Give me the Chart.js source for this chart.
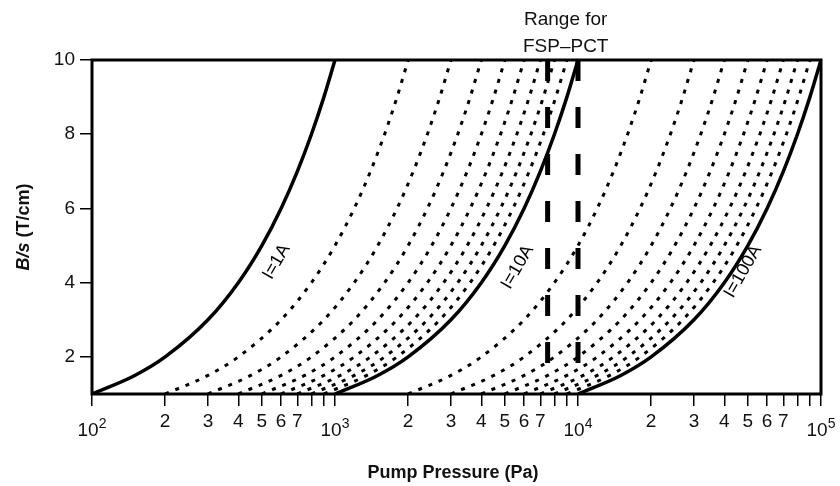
<!DOCTYPE html>
<html>
<head>
<meta charset="utf-8">
<script src="https://cdn.jsdelivr.net/npm/chart.js@4/dist/chart.umd.min.js"></script>
<style>
  body { margin: 0; background: #fff; }
  canvas { display: block; }
</style>
</head>
<body>
<canvas id="chart" width="840" height="486"></canvas>
<script>
var bsLevels = [1, 1.5, 2, 3, 4, 5, 6, 7, 8, 9, 10];

// solid curves, pump pressure (Pa)
var p1A   = [100, 150, 200, 300, 400, 500, 600, 700, 800, 900, 1000];
var p10A  = [1000, 1500, 2000, 3000, 4000, 5000, 6000, 7000, 8000, 9000, 10000];
var p100A = [10000, 15000, 20000, 30000, 40000, 50000, 60000, 70000, 80000, 90000, 100000];

// dotted curves between 1A and 10A
var dottedLow = [
    [200, 300, 400, 600, 800, 1000, 1200, 1400, 1600, 1800, 2000],
    [300, 450, 600, 900, 1200, 1500, 1800, 2100, 2400, 2700, 3000],
    [400, 600, 800, 1200, 1600, 2000, 2400, 2800, 3200, 3600, 4000],
    [500, 750, 1000, 1500, 2000, 2500, 3000, 3500, 4000, 4500, 5000],
    [600, 900, 1200, 1800, 2400, 3000, 3600, 4200, 4800, 5400, 6000],
    [700, 1050, 1400, 2100, 2800, 3500, 4200, 4900, 5600, 6300, 7000],
    [800, 1200, 1600, 2400, 3200, 4000, 4800, 5600, 6400, 7200, 8000],
    [900, 1350, 1800, 2700, 3600, 4500, 5400, 6300, 7200, 8100, 9000]
];

// dotted curves between 10A and 100A
var dottedHigh = [
    [2000, 3000, 4000, 6000, 8000, 10000, 12000, 14000, 16000, 18000, 20000],
    [3000, 4500, 6000, 9000, 12000, 15000, 18000, 21000, 24000, 27000, 30000],
    [4000, 6000, 8000, 12000, 16000, 20000, 24000, 28000, 32000, 36000, 40000],
    [5000, 7500, 10000, 15000, 20000, 25000, 30000, 35000, 40000, 45000, 50000],
    [6000, 9000, 12000, 18000, 24000, 30000, 36000, 42000, 48000, 54000, 60000],
    [7000, 10500, 14000, 21000, 28000, 35000, 42000, 49000, 56000, 63000, 70000],
    [8000, 12000, 16000, 24000, 32000, 40000, 48000, 56000, 64000, 72000, 80000],
    [9000, 13500, 18000, 27000, 36000, 45000, 54000, 63000, 72000, 81000, 90000]
];

// FSP-PCT range (Pa) and the B/s span of the marker lines
var rangePressures = [7500, 10000];
var rangeBs = [10, 1.78];

var yTicks = [2, 4, 6, 8, 10];
var xDecades = [2, 3, 4, 5];
var xMantissas = [1, 2, 3, 4, 5, 6, 7, 8, 9];
var hiddenMinor = [8, 9];

// curve labels: text, pressure, B/s
var curveLabels = [
    ['I=1A', 575, 4.56],
    ['I=10A', 5640, 4.42],
    ['I=100A', 47800, 4.3]
];

var FONT = '"Liberation Sans Narrow", "Liberation Sans", Arial, sans-serif';

function toPoints(pressures) {
    var pts = [];
    pressures.forEach(function (p, i) {
        pts.push({ x: p, y: bsLevels[i] });
    });
    return pts;
}

var datasets = [];

dottedLow.concat(dottedHigh).forEach(function (arr) {
    datasets.push({
        data: toPoints(arr),
        borderColor: '#000',
        borderWidth: 3,
        borderDash: [4, 7],
        pointRadius: 0,
        cubicInterpolationMode: 'monotone',
        fill: false
    });
});

[p1A, p10A, p100A].forEach(function (arr) {
    datasets.push({
        data: toPoints(arr),
        borderColor: '#000',
        borderWidth: 3.5,
        pointRadius: 0,
        cubicInterpolationMode: 'monotone',
        fill: false
    });
});

rangePressures.forEach(function (p) {
    datasets.push({
        data: [{ x: p, y: rangeBs[0] }, { x: p, y: rangeBs[1] }],
        borderColor: '#000',
        borderWidth: 5,
        borderDash: [21, 26],
        borderCapStyle: 'butt',
        pointRadius: 0,
        fill: false
    });
});

function mantissa(v) {
    var e = Math.floor(Math.log10(v) + 1e-9);
    return Math.round(v / Math.pow(10, e));
}

var textPlugin = {
    id: 'textPlugin',
    afterDraw: function (chart) {
        var ctx = chart.ctx;
        var area = chart.chartArea;
        var xs = chart.scales.x;
        var ys = chart.scales.y;

        // frame
        ctx.save();
        ctx.strokeStyle = '#000';
        ctx.lineWidth = 3;
        ctx.strokeRect(area.left, area.top, area.right - area.left, area.bottom - area.top);
        ctx.restore();

        ctx.save();
        ctx.fillStyle = '#111';

        // decade labels 10^n
        xDecades.forEach(function (n) {
            var px = xs.getPixelForValue(Math.pow(10, n));
            ctx.font = '19px ' + FONT;
            var w1 = ctx.measureText('10').width;
            ctx.font = '14px ' + FONT;
            var w2 = ctx.measureText(String(n)).width;
            var x0 = px - (w1 + w2) / 2;
            ctx.textBaseline = 'alphabetic';
            ctx.textAlign = 'left';
            ctx.font = '19px ' + FONT;
            ctx.fillText('10', x0, 436);
            ctx.font = '14px ' + FONT;
            ctx.fillText(String(n), x0 + w1, 428);
        });

        // range label
        var rx = xs.getPixelForValue(8900);
        ctx.textAlign = 'center';
        ctx.font = '19px ' + FONT;
        ctx.fillText('Range for', rx, 25);
        ctx.fillText('FSP\u2013PCT', rx, 52);

        // curve labels
        curveLabels.forEach(function (lab) {
            ctx.save();
            ctx.translate(xs.getPixelForValue(lab[1]), ys.getPixelForValue(lab[2]));
            ctx.rotate(-60 * Math.PI / 180);
            ctx.textAlign = 'center';
            ctx.textBaseline = 'middle';
            ctx.font = '18px ' + FONT;
            ctx.fillStyle = '#000';
            ctx.fillText(lab[0], 0, 0);
            ctx.restore();
        });

        // x title
        ctx.textAlign = 'center';
        ctx.textBaseline = 'middle';
        ctx.font = 'bold 18px ' + FONT;
        ctx.fillText('Pump Pressure (Pa)', 453, 473);

        // y title, B/s italic
        ctx.save();
        ctx.translate(24, 227);
        ctx.rotate(-Math.PI / 2);
        ctx.textBaseline = 'middle';
        ctx.font = 'italic bold 18px ' + FONT;
        var wa = ctx.measureText('B/s').width;
        ctx.font = 'bold 18px ' + FONT;
        var wb = ctx.measureText(' (T/cm)').width;
        ctx.textAlign = 'left';
        ctx.font = 'italic bold 18px ' + FONT;
        ctx.fillText('B/s', -(wa + wb) / 2, 0);
        ctx.font = 'bold 18px ' + FONT;
        ctx.fillText(' (T/cm)', -(wa + wb) / 2 + wa, 0);
        ctx.restore();

        ctx.restore();
    }
};

var ctx = document.getElementById('chart').getContext('2d');
var chart = new Chart(ctx, {
    type: 'line',
    data: { datasets: datasets },
    options: {
        responsive: false,
        animation: false,
        layout: { padding: { top: 60, right: 19, left: 0, bottom: 0 } },
        plugins: {
            legend: { display: false },
            tooltip: { enabled: false }
        },
        scales: {
            x: {
                type: 'logarithmic',
                min: 100,
                max: 100000,
                border: { display: false },
                grid: {
                    drawOnChartArea: false,
                    color: '#000',
                    lineWidth: 1.5,
                    tickLength: 12
                },
                afterBuildTicks: function (scale) {
                    var t = [];
                    xDecades.forEach(function (n) {
                        if (n === 5) {
                            t.push({ value: Math.pow(10, n) });
                            return;
                        }
                        xMantissas.forEach(function (m) {
                            t.push({ value: m * Math.pow(10, n) });
                        });
                    });
                    scale.ticks = t;
                },
                ticks: {
                    autoSkip: false,
                    maxRotation: 0,
                    padding: 4,
                    color: '#111',
                    font: { family: FONT, size: 19 },
                    callback: function (value) {
                        var m = mantissa(value);
                        if (m === 1 || hiddenMinor.indexOf(m) >= 0) return '';
                        return String(m);
                    }
                },
                afterFit: function (scale) { scale.height = 92; }
            },
            y: {
                type: 'linear',
                min: 1,
                max: 10,
                border: { display: false },
                grid: {
                    drawOnChartArea: false,
                    color: '#000',
                    lineWidth: 1.5,
                    tickLength: 12
                },
                afterBuildTicks: function (scale) {
                    scale.ticks = yTicks.map(function (v) { return { value: v }; });
                },
                ticks: {
                    padding: 5,
                    color: '#111',
                    font: { family: FONT, size: 19 }
                },
                afterFit: function (scale) { scale.width = 92; }
            }
        }
    },
    plugins: [textPlugin]
});
</script>
</body>
</html>
